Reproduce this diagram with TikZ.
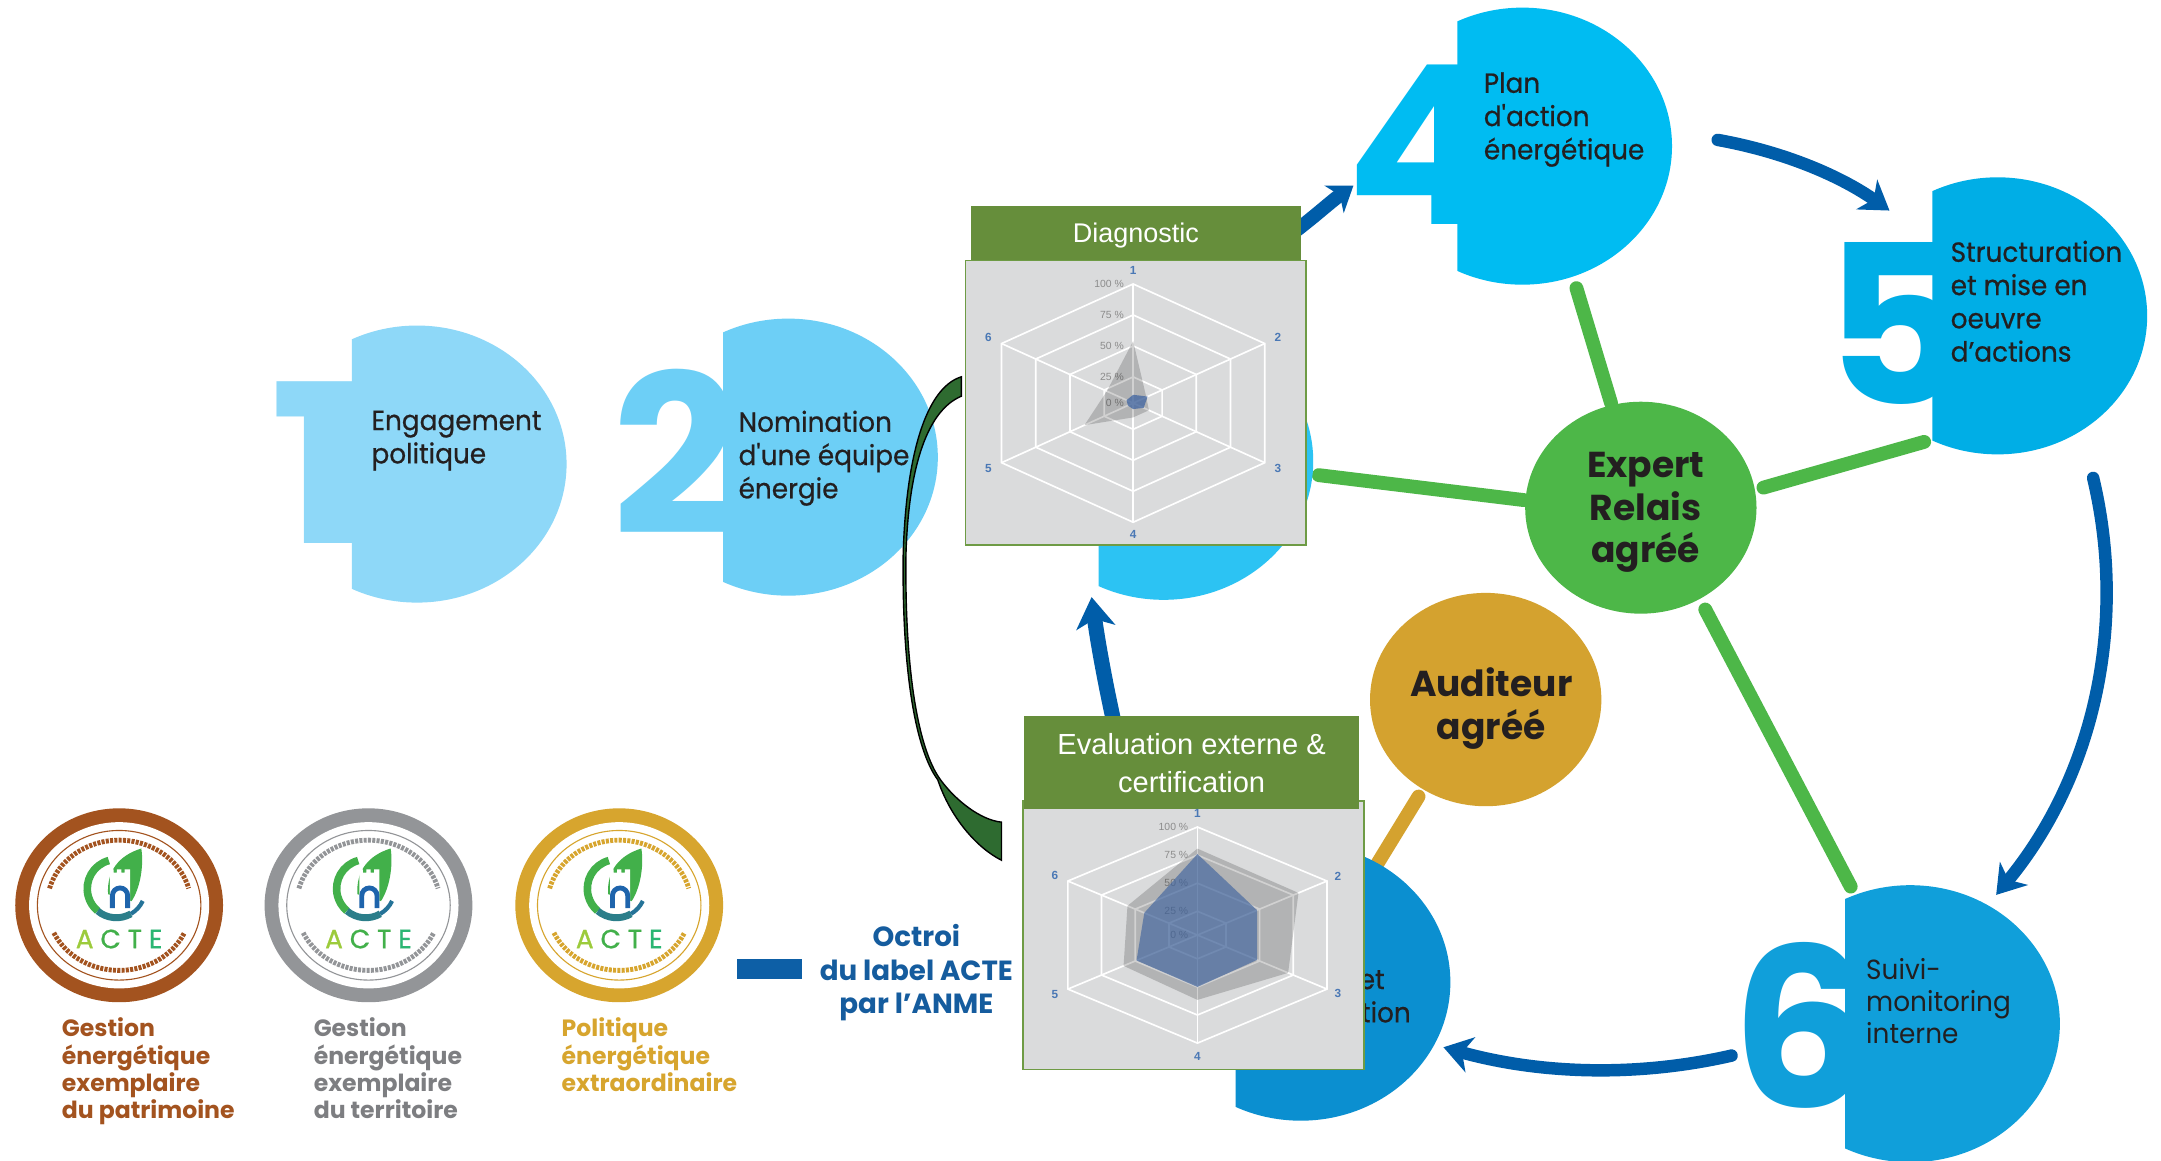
\documentclass[tikz,border=0pt]{standalone}
\usepackage{fontspec}
\setmainfont{Liberation Sans}
\newfontfamily\pop{Poppins}
\newfontfamily\popm{Poppins}[FakeStretch=0.95, FakeBold=0.6]
\newfontfamily\popn{Poppins}[FakeStretch=0.95]
\newfontfamily\popa{Poppins}[FakeBold=1]
\newfontfamily\popw{Poppins}[FakeStretch=1.25]
\usetikzlibrary{arrows.meta,shapes.geometric}
\definecolor{cA}{HTML}{8ED8F8}
\definecolor{cB}{HTML}{6DCFF6}
\definecolor{cC}{HTML}{2CC3F3}
\definecolor{cD}{HTML}{00BCF2}
\definecolor{cE}{HTML}{00AEE6}
\definecolor{cF}{HTML}{109FDA}
\definecolor{cG}{HTML}{0B8FD0}
\definecolor{txt}{HTML}{231F20}
\definecolor{expg}{HTML}{4DB748}
\definecolor{gold}{HTML}{D4A22F}
\definecolor{arrb}{HTML}{005DA9}
\definecolor{hdrg}{HTML}{668E3B}
\definecolor{panelg}{HTML}{DADBDC}
\definecolor{bordg}{HTML}{6E9B45}
\definecolor{axb}{HTML}{4A78B5}
\definecolor{pctg}{HTML}{8C8C8C}
\definecolor{swg}{HTML}{2E6B30}
\definecolor{octb}{HTML}{155C9E}
\definecolor{barb}{HTML}{0D5FA6}
\definecolor{bronze}{HTML}{A3531F}
\definecolor{silver}{HTML}{939598}
\definecolor{capgray}{HTML}{7D7E81}
\definecolor{goldb}{HTML}{D7A52E}
\definecolor{leafg}{HTML}{42B04A}
\definecolor{acA}{HTML}{9CCB3B}
\definecolor{acE}{HTML}{2BB673}
\definecolor{nblue}{HTML}{1E64AC}
\definecolor{dblue}{HTML}{3F64A0}
\newcommand\mylines[2][l]{\begin{tabular}[t]{@{}#1@{}}#2\end{tabular}}
\newcommand\stepdisc[3]{%
  \begin{scope}
    \clip ({#2-47},{#3-110}) rectangle ({#2+115},{#3+110});
    \fill[#1] (#2,#3) ellipse [x radius=108pt, y radius=100pt];
  \end{scope}}
\newcommand\actebadge[4]{%
  \begin{scope}[shift={(#2pt,-#3pt)}, x=1pt, y=1pt]
    \node[ellipse, fill=#4, minimum width=150pt, minimum height=140pt, inner sep=0pt] (#1) at (0,0) {};
    \fill[white] (0,0) ellipse [x radius=65pt, y radius=60pt];
    \draw[#4, line width=0.8pt] (0,0) ellipse [x radius=59pt, y radius=54pt];
    \draw[#4, line width=3.5pt, dash pattern=on 2.2pt off 0.9pt] (165:52pt and 47pt) arc[start angle=165, end angle=15, x radius=52pt, y radius=47pt];
    \draw[#4, line width=3.5pt, dash pattern=on 2.2pt off 0.9pt] (205:52pt and 47pt) arc[start angle=205, end angle=335, x radius=52pt, y radius=47pt];
    % C shape
    \draw[leafg, line width=5.5pt] (-7.44,32.28) arc[start angle=105, end angle=230, radius=21pt];
    \draw[nblue!65!leafg, line width=5pt] (-15.5,-4.09) arc[start angle=230, end angle=300, radius=21pt];
    \draw[nblue!80!leafg, line width=3pt] (8.5,-6.19) arc[start angle=300, end angle=335, radius=21pt];
    % leaf
    \fill[leafg] (-8,8) .. controls (-9,25) and (0,36) .. (16,41) .. controls (18,28) and (15,12) .. (9,3) -- cycle;
    % tower
    \fill[white] (-6.6,-2) -- (-6.6,26) -- (-4,26) -- (-4,23.5) -- (-1.6,23.5) -- (-1.6,26) -- (1.6,26) -- (1.6,23.5) -- (4,23.5) -- (4,26) -- (7.9,26) -- (7.9,-2) -- cycle;
    \draw[nblue, line width=3.5pt] (-4.85,-2) -- (-4.85,7) arc[start angle=180, end angle=0, radius=5.5pt] -- (6.15,-2);
    \node[font=\popa\fontsize{19}{19}\selectfont, anchor=base, inner sep=0pt] (#1t) at (0,-31)
      {\textcolor{acA}{A}\hspace{5pt}\textcolor{leafg}{C}\hspace{5pt}\textcolor{leafg}{T}\hspace{5pt}\textcolor{acE}{E}};
  \end{scope}}
\begin{document}
\begin{tikzpicture}[x=1pt, y=-1pt,
  steptxt/.style={font=\popm\fontsize{20}{24}\selectfont, text=txt, inner sep=0pt, anchor=base west},
  digit/.style={font=\pop\bfseries\fontsize{160}{160}\selectfont, inner sep=0pt, anchor=south west},
  boldtxt/.style={font=\pop\bfseries\fontsize{26}{30.5}\selectfont, text=txt, inner sep=0pt, anchor=base},
  greenline/.style={draw=expg, line width=10pt, line cap=round},
  goldline/.style={draw=gold, line width=10pt, line cap=round},
  bluearrow/.style={draw=arrb, line width=9pt, line cap=round, -{Stealth[length=20pt, width=26pt, inset=6pt]}},
  panel/.style={rectangle, fill=panelg, draw=bordg, line width=1.3pt, inner sep=0pt},
  hdr/.style={rectangle, fill=hdrg, inner sep=0pt},
  hdrtxt/.style={text=white, inner sep=0pt, anchor=base},
  gridw/.style={draw=white, line width=1.2pt},
  pct/.style={font=\fontsize{7.5}{7.5}\selectfont, text=pctg, inner sep=0pt, anchor=east},
  axl/.style={font=\bfseries\fontsize{8.5}{8.5}\selectfont, text=axb, inner sep=0pt},
  captxt/.style={font=\pop\bfseries\fontsize{17}{19.5}\selectfont, inner sep=0pt, anchor=base west}
]
\useasboundingbox (0,0) rectangle (1560,838.1);
\fill[white] (0,0) rectangle (1560,838.1);

% ---- connector lines (behind discs)
\coordinate (g1a) at (1138,208); \coordinate (g1b) at (1163,291);
\coordinate (g2a) at (952,343);  \coordinate (g2b) at (1100,361);
\coordinate (g3a) at (1273,352); \coordinate (g3b) at (1389,319);
\coordinate (g4a) at (1231,440); \coordinate (g4b) at (1336,640);
\coordinate (o1a) at (1024,575); \coordinate (o1b) at (994,624);
\draw[greenline] (g1a) -- (g1b);
\draw[greenline] (g2a) -- (g2b);
\draw[greenline] (g3a) -- (g3b);
\draw[greenline] (g4a) -- (g4b);
\draw[goldline] (o1a) -- (o1b);

% ---- step discs
\node[digit, font=\popw\bfseries\fontsize{160}{160}\selectfont, text=cA] (n1) at (194,392.3) {1};
\stepdisc{cA}{301}{335}
\node[steptxt] (t1) at (268,310.5) {\mylines{Engagement\\politique}};

\node[digit, text=cB] (n2) at (442,386) {2};
\stepdisc{cB}{569}{330}
\node[steptxt] (t2) at (533,311.7) {\mylines{Nomination\\d\textquotesingle une équipe\\énergie}};

\stepdisc{cC}{840}{333}

\node[digit, text=cD] (n4) at (972,162) {4};
\stepdisc{cD}{1099}{105.5}
\node[steptxt] (t4) at (1071,67) {\mylines{Plan\\d\textquotesingle action\\énergétique}};

\node[digit, text=cE] (n5) at (1317,292) {5};
\stepdisc{cE}{1442}{228}
\node[steptxt] (t5) at (1408,189) {\mylines{Structuration\\et mise en\\oeuvre\\d’actions}};

\node[digit, text=cF] (n6) at (1250,800) {6};
\stepdisc{cF}{1379}{739}
\node[steptxt, font=\popn\fontsize{20}{23}\selectfont] (t6) at (1347,707) {\mylines{Suivi-\\monitoring\\interne}};

\stepdisc{cG}{939}{709}
\node[steptxt] (t7) at (905,714) {\mylines{externe et\\certification}};

% ---- expert / auditeur
\node[ellipse, fill=expg, minimum width=167pt, minimum height=153pt, inner sep=0pt] (expert) at (1184.5,366.5) {};
\node[boldtxt] (expt) at (1188,345) {\mylines[c]{Expert\\Relais\\agréé}};
\node[ellipse, fill=gold, minimum width=167pt, minimum height=154pt, inner sep=0pt] (audit) at (1072.5,505) {};
\node[boldtxt, font=\pop\bfseries\fontsize{26}{31}\selectfont] (audt) at (1076.5,503) {\mylines[c]{Auditeur\\agréé}};

% ---- blue arrows
\coordinate (a1s) at (928,172); \coordinate (a1e) at (977,134);
\coordinate (a2s) at (1240,101); \coordinate (a2e) at (1364,152);
\coordinate (a3s) at (1511,345); \coordinate (a3e) at (1441,646);
\coordinate (a4s) at (1250,762); \coordinate (a4e) at (1042,756);
\coordinate (a5s) at (806,530); \coordinate (a5e) at (788,431);
\draw[bluearrow, line width=10pt, -{Stealth[length=17pt, width=24pt, inset=5pt]}] (a1s) .. controls (945,160) and (960,146) .. (a1e);
\draw[bluearrow] (a2s) .. controls (1290,110) and (1330,128) .. (a2e);
\draw[bluearrow] (a3s) .. controls (1536,450) and (1512,560) .. (a3e);
\draw[bluearrow] (a4s) .. controls (1180,778) and (1110,775) .. (a4e);
\draw[bluearrow, line width=11pt, -{Stealth[length=22pt, width=28pt, inset=6pt]}] (a5s) .. controls (797,490) and (792,460) .. (a5e);

% ---- Diagnostic panel
\node[panel, minimum width=246pt, minimum height=205.5pt] (diagp) at (820,290.75) {};
\node[hdr, minimum width=238pt, minimum height=39pt] (diagh) at (820,168.5) {};
\node[hdrtxt, font=\fontsize{19.5}{19.5}\selectfont] (diagt) at (820,175) {Diagnostic};
\begin{scope}[shift={(818pt,-291pt)}, x=109.7pt, y=86pt]
  \foreach \r in {0.22,0.48,0.74,1} \draw[gridw] (90:\r) -- (30:\r) -- (-30:\r) -- (-90:\r) -- (-150:\r) -- (150:\r) -- cycle;
  \foreach \a in {90,30,-30,-90,-150,150} \draw[gridw] (0,0) -- (\a:1);
  \node[pct] (dp100) at (-0.06,1) {100 \%};
  \node[pct] (dp75) at (-0.06,0.74) {75 \%};
  \node[pct] (dp50) at (-0.06,0.48) {50 \%};
  \node[pct] (dp25) at (-0.06,0.22) {25 \%};
  \node[pct] (dp0) at (-0.06,0) {0 \%};
  \fill[black, opacity=0.18] (90:0.52) -- (30:0.1) -- (-30:0.12) -- (-90:0.12) -- (-150:0.37) -- (150:0.2) -- cycle;
  \fill[dblue, opacity=0.75] (90:0.07) -- (30:0.11) -- (-30:0.08) -- (-90:0.05) -- (-150:0.04) -- (150:0.05) -- cycle;
  \node[axl] (da1) at (90:1.11) {1};
  \node[axl] (da2) at (30:1.1) {2};
  \node[axl] (da3) at (-30:1.1) {3};
  \node[axl] (da4) at (-90:1.1) {4};
  \node[axl] (da5) at (-150:1.1) {5};
  \node[axl] (da6) at (150:1.1) {6};
\end{scope}

% ---- Evaluation panel
\node[panel, minimum width=245.9pt, minimum height=194pt] (evalp) at (861.65,675) {};
\node[hdr, minimum width=241.6pt, minimum height=67pt] (evalh) at (860.2,550.5) {};
\node[hdrtxt, font=\fontsize{21}{27}\selectfont] (evalt) at (860.2,545) {\mylines[c]{Evaluation externe \&\\certification}};
\begin{scope}[shift={(864.4pt,-675pt)}, x=108pt, y=78pt]
  \foreach \r in {0.22,0.48,0.74,1} \draw[gridw] (90:\r) -- (30:\r) -- (-30:\r) -- (-90:\r) -- (-150:\r) -- (150:\r) -- cycle;
  \foreach \a in {90,30,-30,-90,-150,150} \draw[gridw] (0,0) -- (\a:1);
  \node[pct] (ep100) at (-0.06,1) {100 \%};
  \node[pct] (ep75) at (-0.06,0.74) {75 \%};
  \node[pct] (ep50) at (-0.06,0.48) {50 \%};
  \node[pct] (ep25) at (-0.06,0.22) {25 \%};
  \node[pct] (ep0) at (-0.06,0) {0 \%};
  \fill[black, opacity=0.18] (90:0.80) -- (30:0.78) -- (-30:0.70) -- (-90:0.60) -- (-150:0.57) -- (150:0.54) -- cycle;
  \fill[dblue, opacity=0.65] (90:0.75) -- (30:0.46) -- (-30:0.46) -- (-90:0.48) -- (-150:0.47) -- (150:0.41) -- cycle;
  \node[axl] (ea1) at (90:1.13) {1};
  \node[axl] (ea2) at (30:1.085) {2};
  \node[axl] (ea3) at (-30:1.085) {3};
  \node[axl] (ea4) at (-90:1.12) {4};
  \node[axl] (ea5) at (-150:1.1) {5};
  \node[axl] (ea6) at (150:1.1) {6};
\end{scope}

% ---- green swoosh from Diagnostic to Evaluation
\coordinate (swA) at (694,272);
\coordinate (swB) at (723,621);
\filldraw[fill=swg, draw=black, line width=1pt] (swA) .. controls (668,280) and (654,330) .. (652,400)
  .. controls (651,480) and (660,540) .. (677,563)
  .. controls (686,590) and (705,612) .. (swB) -- (723,593.5)
  .. controls (708,592) and (690,578) .. (679,563)
  .. controls (662,540) and (653,480) .. (654,400)
  .. controls (656,335) and (670,296) .. (694,286) -- cycle;

% ---- Octroi
\node[rectangle, fill=barb, minimum width=47pt, minimum height=14.6pt, inner sep=0pt] (bar) at (555.5,699.7) {};
\node[font=\pop\bfseries\fontsize{20}{24}\selectfont, text=octb, inner sep=0pt, anchor=base] (oct) at (661.5,683.5) {\mylines[c]{Octroi\\du label ACTE\\par l’ANME}};

% ---- badges
\actebadge{b1}{86}{653.5}{bronze}
\actebadge{b2}{266}{653.5}{silver}
\actebadge{b3}{447}{653.5}{goldb}
\node[captxt, text=bronze] (cap1) at (44.5,748.5) {\mylines{Gestion\\énergétique\\exemplaire\\du patrimoine}};
\node[captxt, text=capgray] (cap2) at (226.3,748.5) {\mylines{Gestion\\énergétique\\exemplaire\\du territoire}};
\node[captxt, text=goldb] (cap3) at (405.3,748.5) {\mylines{Politique\\énergétique\\extraordinaire}};
\end{tikzpicture}
\end{document}
